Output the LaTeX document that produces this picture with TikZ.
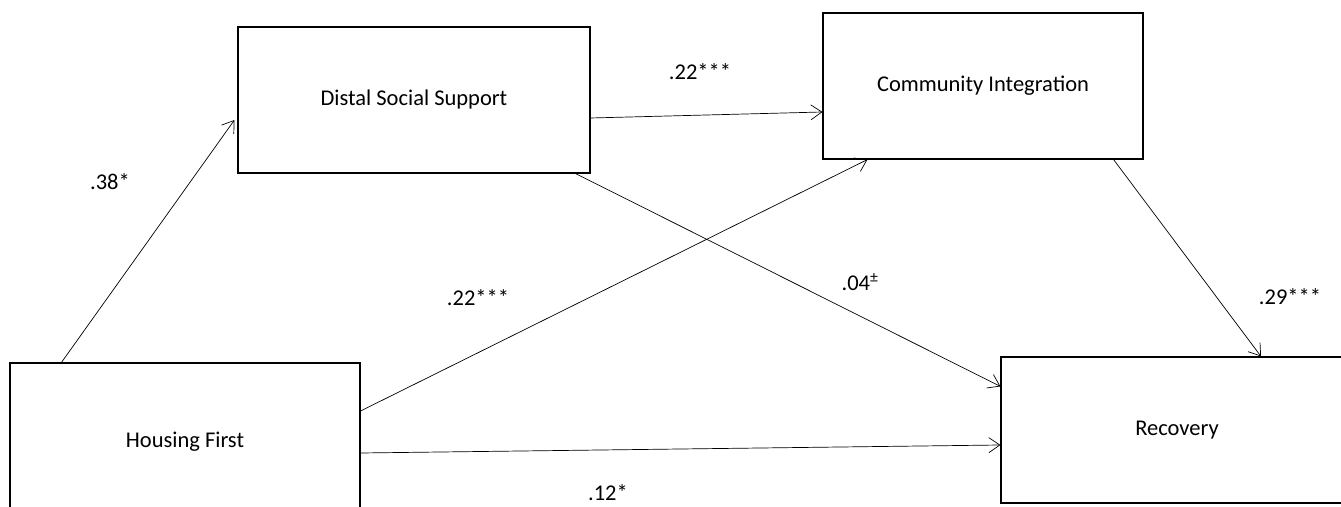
\documentclass[tikz,border=0pt]{standalone}
\usepackage{fontspec}
\setmainfont{Carlito}
\usetikzlibrary{arrows.meta}

\tikzset{
  box/.style={draw, rectangle, line width=1.1pt, inner sep=0pt,
    font=\fontsize{22.5}{27}\selectfont},
  link/.style={-{Straight Barb[length=11pt,width=15pt]}, line width=0.7pt},
  coef/.style={font=\fontsize{22.5}{27}\selectfont, inner sep=0pt}
}

\begin{document}
\begin{tikzpicture}[x=1pt,y=1pt]
  \useasboundingbox (0,0) rectangle (1341,506);
  \clip (0,0) rectangle (1341,506);

  \node[box, minimum width=350pt, minimum height=158pt] (hf) at (185,64) {Housing First};
  \node[box, minimum width=352pt, minimum height=146pt] (dss) at (414,406) {Distal Social Support};
  \node[box, minimum width=320pt, minimum height=146pt] (ci) at (983,420) {Community Integration};
  \node[box, minimum width=352pt, minimum height=146pt] (rec) at (1177,76) {Recovery};

  \draw[link] ([xshift=52pt]hf.north west) -- ([shift={(-3pt,-20pt)}]dss.west);
  \draw[link] ([yshift=-18pt]dss.east) -- ([yshift=-26pt]ci.west);
  \draw[link] ([yshift=31pt]hf.east) -- ([xshift=45pt]ci.south west);
  \draw[link] ([xshift=-15pt]dss.south east) -- ([yshift=-30pt]rec.north west);
  \draw[link] ([xshift=-30pt]ci.south east) -- ([xshift=84pt]rec.north);
  \draw[link] ([yshift=-11pt]hf.east) -- ([yshift=-15pt]rec.west);

  % path coefficients
  \node[coef] (c1) at (110,324) {.38*};
  \node[coef] (c2) at (700,434) {.22***};
  \node[coef] (c3) at (478,208) {.22***};
  \node[coef] (c4) at (860,224) {.04\textsuperscript{\textpm}};
  \node[coef] (c5) at (1290,209) {.29***};
  \node[coef] (c6) at (608,13) {.12*};
\end{tikzpicture}
\end{document}
